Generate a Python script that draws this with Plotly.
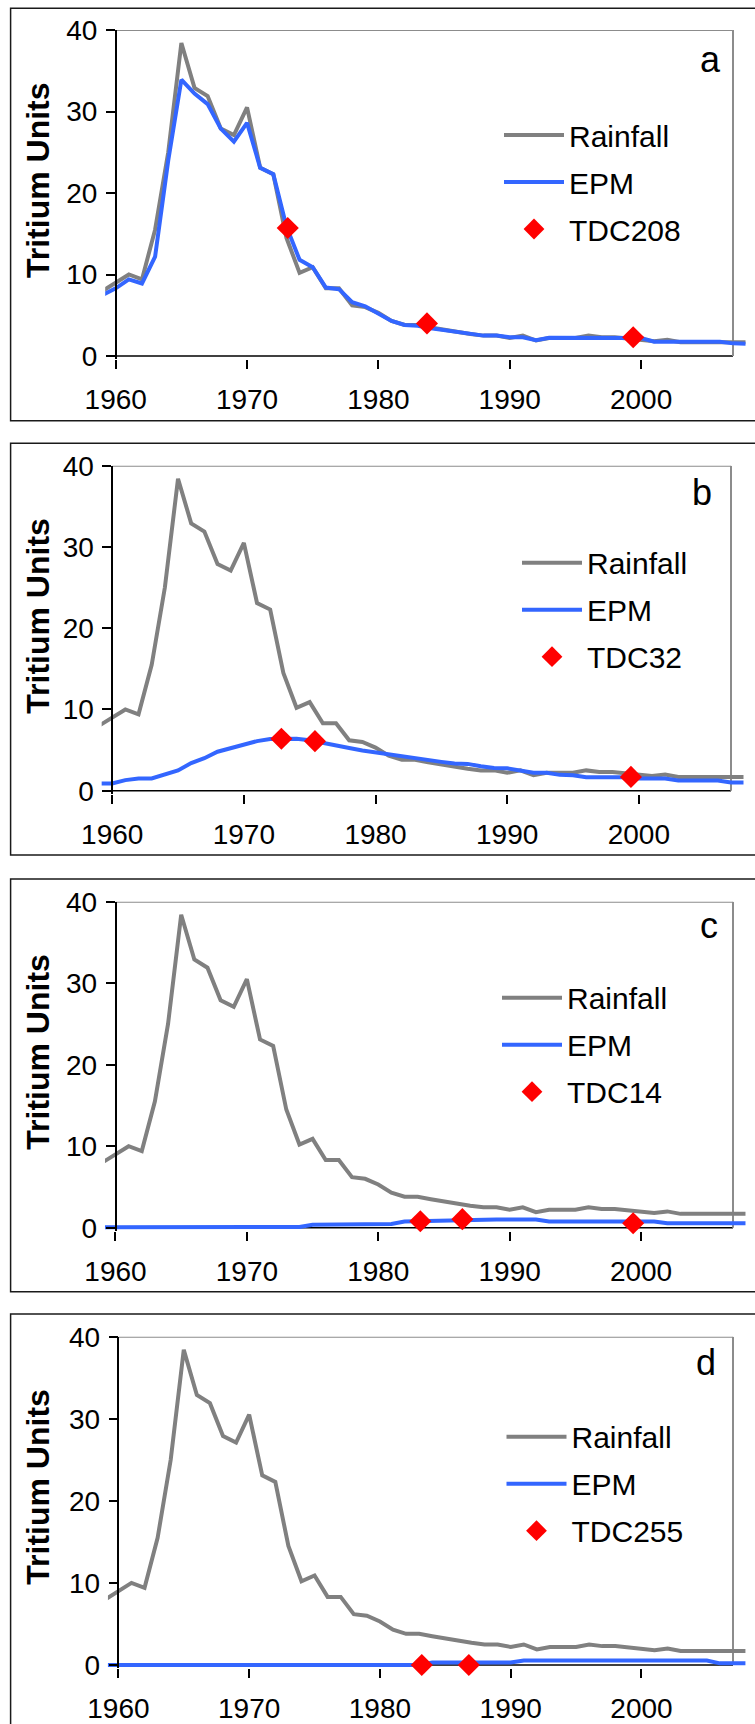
import plotly.graph_objects as go

W, H = 755, 1724

# ---------------- data ----------------
years = [1959, 1960, 1961, 1962, 1963, 1964, 1965, 1966, 1967, 1968,
         1969, 1970, 1971, 1972, 1973, 1974, 1975, 1976, 1977, 1978,
         1979, 1980, 1981, 1982, 1983, 1984, 1985, 1986, 1987, 1988,
         1989, 1990, 1991, 1992, 1993, 1994, 1995, 1996, 1997, 1998,
         1999, 2000, 2001, 2002, 2003, 2004, 2005, 2006, 2007, 2008]

rainfall = [8.0, 9.0, 10.0, 9.4, 15.5, 25.0, 38.4, 32.9, 31.9, 27.9,
            27.1, 30.5, 23.1, 22.3, 14.5, 10.2, 10.9, 8.3, 8.3, 6.2,
            6.0, 5.3, 4.3, 3.8, 3.8, 3.5, 3.2, 2.9, 2.7, 2.5,
            2.5, 2.2, 2.5, 1.9, 2.2, 2.2, 2.2, 2.5, 2.3, 2.3,
            2.1, 2.0, 1.8, 2.0, 1.7, 1.7, 1.7, 1.7, 1.7, 1.7]

epm_a = [7.5, 8.3, 9.4, 8.9, 12.2, 24.0, 33.9, 32.2, 30.9, 27.9,
         26.3, 28.6, 23.1, 22.3, 15.9, 11.8, 10.9, 8.4, 8.2, 6.6,
         6.1, 5.2, 4.3, 3.8, 3.7, 3.4, 3.2, 3.0, 2.8, 2.5,
         2.5, 2.3, 2.3, 1.95, 2.25, 2.25, 2.25, 2.25, 2.25, 2.25,
         2.25, 2.2, 1.75, 1.8, 1.75, 1.75, 1.75, 1.75, 1.55, 1.5]

epm_b = [0.9, 0.9, 1.3, 1.5, 1.5, 2.0, 2.5, 3.4, 4.0, 4.8,
         5.25, 5.6, 6.1, 6.35, 6.4, 6.4, 6.2, 5.85, 5.55, 5.25,
         4.95, 4.7, 4.45, 4.25, 4.05, 3.8, 3.55, 3.35, 3.3, 3.0,
         2.8, 2.75, 2.5, 2.2, 2.2, 1.95, 1.9, 1.65, 1.65, 1.65,
         1.65, 1.5, 1.5, 1.5, 1.25, 1.25, 1.25, 1.25, 1.0, 1.0]

epm_c = [0.05, 0.05, 0.05, 0.05, 0.05, 0.05, 0.05, 0.05, 0.05, 0.05,
         0.05, 0.05, 0.05, 0.05, 0.05, 0.1, 0.35, 0.35, 0.35, 0.35,
         0.35, 0.35, 0.45, 0.75, 0.8, 0.85, 0.9, 0.95, 1.0, 1.0,
         1.0, 1.0, 1.0, 1.0, 0.75, 0.75, 0.75, 0.75, 0.75, 0.75,
         0.75, 0.75, 0.75, 0.55, 0.55, 0.55, 0.55, 0.55, 0.55, 0.55]

epm_d = [0.0, 0.0, 0.0, 0.0, 0.0, 0.0, 0.0, 0.0, 0.0, 0.0,
         0.0, 0.0, 0.0, 0.0, 0.0, 0.0, 0.0, 0.0, 0.0, 0.0,
         0.0, 0.0, 0.0, 0.0, 0.0, 0.3, 0.3, 0.3, 0.3, 0.3,
         0.3, 0.3, 0.55, 0.55, 0.55, 0.55, 0.55, 0.55, 0.55, 0.55,
         0.55, 0.55, 0.55, 0.55, 0.55, 0.55, 0.55, 0.2, 0.2, 0.2]

tdc208_x = [1973.1, 1983.7, 1999.4]
tdc208_y = [15.7, 4.0, 2.3]
tdc32_x = [1972.85, 1975.4, 1999.4]
tdc32_y = [6.4, 6.1, 1.7]
tdc14_x = [1983.2, 1986.4, 1999.4]
tdc14_y = [0.8, 1.05, 0.55]
tdc255_x = [1983.2, 1986.8]
tdc255_y = [0.0, 0.0]

sample_names = ["TDC208", "TDC32", "TDC14", "TDC255"]
panel_labels = ["a", "b", "c", "d"]
epm_series = [epm_a, epm_b, epm_c, epm_d]
tdc_x = [tdc208_x, tdc32_x, tdc14_x, tdc255_x]
tdc_y = [tdc208_y, tdc32_y, tdc14_y, tdc255_y]

x_ticks = [1960, 1970, 1980, 1990, 2000]
y_ticks = [0, 10, 20, 30, 40]

# ---------------- style / geometry ----------------
FONT = "Arial, Liberation Sans, sans-serif"
RAIN_COLOR = "#808080"
EPM_COLOR = "#3366FF"
TDC_COLOR = "#FF0000"
FRAME_COLOR = "#8c8c8c"

AX_X0, AX_X1 = 1960, 2007      # axis box extents (years)
AX_Y0, AX_Y1 = 0, 40           # axis box extents (TU)
XMIN, XMAX = 1959.2, 2007.95   # visible data window
YMIN, YMAX = -0.35, 40

GEOM = [
    dict(x1960=115.7, x2007=733.0, y40=30.0, y0=356.0, box_top=8.3, box_bottom=420.7,
         leg_x=499.0, leg_row=134.0, lab_x=710.0, lab_base=72.3),
    dict(x1960=112.2, x2007=731.0, y40=465.7, y0=790.7, box_top=443.3, box_bottom=855.0,
         leg_x=517.0, leg_row=561.7, lab_x=702.0, lab_base=505.0),
    dict(x1960=115.5, x2007=733.0, y40=901.7, y0=1227.7, box_top=879.0, box_bottom=1291.7,
         leg_x=497.0, leg_row=996.7, lab_x=709.4, lab_base=938.3),
    dict(x1960=118.4, x2007=733.0, y40=1336.7, y0=1665.0, box_top=1314.0, box_bottom=1730.0,
         leg_x=501.5, leg_row=1435.7, lab_x=706.0, lab_base=1375.0),
]

fig = go.Figure()
layout = dict(
    template="none",
    width=W, height=H,
    margin=dict(l=0, r=0, t=0, b=0, pad=0, autoexpand=False),
    paper_bgcolor="white", plot_bgcolor="rgba(0,0,0,0)",
    font=dict(family=FONT, color="black"),
    hovermode=False,
)
shapes = []
annotations = []

for i in range(4):
    n = "" if i == 0 else str(i + 1)
    xa, ya = "x" + n, "y" + n
    lg = "legend" + n
    g = GEOM[i]

    fig.add_trace(go.Scatter(x=years, y=rainfall, mode="lines", name="Rainfall",
                             line=dict(color=RAIN_COLOR, width=4),
                             xaxis=xa, yaxis=ya, legend=lg, legendgroup="r%d" % i))
    fig.add_trace(go.Scatter(x=years, y=epm_series[i], mode="lines", name="EPM",
                             line=dict(color=EPM_COLOR, width=4),
                             xaxis=xa, yaxis=ya, legend=lg, legendgroup="e%d" % i))
    fig.add_trace(go.Scatter(x=tdc_x[i], y=tdc_y[i], mode="markers", name=sample_names[i],
                             marker=dict(symbol="diamond", size=17, color=TDC_COLOR,
                                         line=dict(width=0)),
                             cliponaxis=False,
                             xaxis=xa, yaxis=ya, legend=lg, legendgroup="t%d" % i))

    sx = (g["x2007"] - g["x1960"]) / (AX_X1 - AX_X0)
    left = g["x1960"] - (AX_X0 - XMIN) * sx
    right = g["x2007"] + (XMAX - AX_X1) * sx
    sy = (g["y0"] - g["y40"]) / (AX_Y1 - AX_Y0)
    top = g["y40"] - (YMAX - AX_Y1) * sy
    bottom = g["y0"] + (AX_Y0 - YMIN) * sy

    layout["xaxis" + n] = dict(
        domain=[left / W, right / W], range=[XMIN, XMAX], anchor=ya,
        automargin=False,
        tickvals=x_ticks, ticktext=[str(v) for v in x_ticks],
        ticks="outside", ticklen=9, tickwidth=1.5, tickcolor="black",
        showline=False, showgrid=False, zeroline=False,
        tickfont=dict(size=28, color="black", family=FONT), ticklabelstandoff=7,
    )
    layout["yaxis" + n] = dict(
        domain=[1 - bottom / H, 1 - top / H], range=[YMIN, YMAX],
        anchor="free", position=g["x1960"] / W, automargin=False,
        tickvals=y_ticks, ticks="outside", ticklen=9, tickwidth=1.5, tickcolor="black",
        showline=True, linecolor="black", linewidth=1.5,
        showgrid=False, zeroline=False,
        tickfont=dict(size=28, color="black", family=FONT), ticklabelstandoff=3,
    )
    layout[lg] = dict(
        x=g["leg_x"] / W, y=1 - (g["leg_row"] - 25) / H, xanchor="left", yanchor="top",
        xref="paper", yref="paper",
        font=dict(size=30, color="black", family=FONT),
        bgcolor="rgba(0,0,0,0)", borderwidth=0, tracegroupgap=5, itemwidth=60,
    )

    # axis frame
    shapes.append(dict(type="line", xref=xa, yref=ya, x0=AX_X0, x1=AX_X1, y0=AX_Y0, y1=AX_Y0,
                       line=dict(color="black", width=1.5), layer="below"))
    shapes.append(dict(type="line", xref=xa, yref=ya, x0=AX_X0, x1=AX_X1, y0=AX_Y1, y1=AX_Y1,
                       line=dict(color=FRAME_COLOR, width=2), layer="below"))
    shapes.append(dict(type="line", xref=xa, yref=ya, x0=AX_X1, x1=AX_X1, y0=AX_Y0, y1=AX_Y1,
                       line=dict(color=FRAME_COLOR, width=2), layer="below"))
    # outer panel border
    shapes.append(dict(type="rect", xref="paper", yref="paper",
                       x0=10.6 / W, x1=(W + 10) / W,
                       y0=1 - g["box_bottom"] / H, y1=1 - g["box_top"] / H,
                       line=dict(color="#1a1a1a", width=1.5), fillcolor="rgba(0,0,0,0)",
                       layer="above"))

    annotations.append(dict(text="<b>Tritium Units</b>", textangle=-90,
                            xref="paper", yref="paper", x=38 / W, y=1 - (g["y40"] + 150) / H,
                            xanchor="center", yanchor="middle", showarrow=False,
                            font=dict(size=32, color="black", family=FONT)))
    annotations.append(dict(text=panel_labels[i], xref="paper", yref="paper",
                            x=g["lab_x"] / W, y=1 - (g["lab_base"] - 12.6) / H,
                            xanchor="center", yanchor="middle", showarrow=False,
                            font=dict(size=36, color="black", family=FONT)))

layout["shapes"] = shapes
layout["annotations"] = annotations
fig.update_layout(**layout)

fig.write_html(
    "out.html",
    config={"displayModeBar": False, "responsive": False},
    post_script="document.body.style.margin='0';document.body.style.overflow='hidden';",
)
